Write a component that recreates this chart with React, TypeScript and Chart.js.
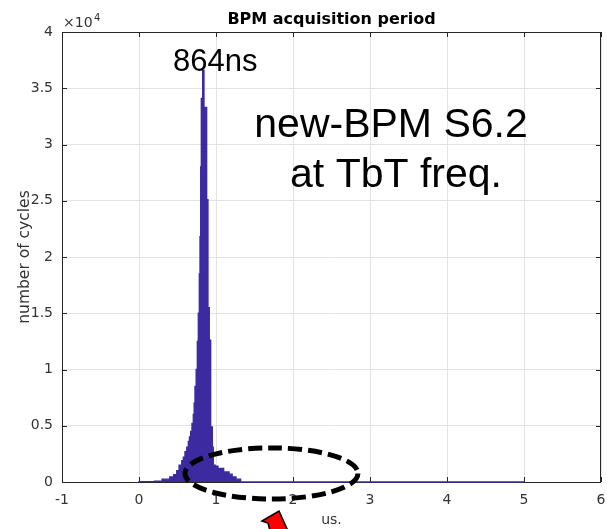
import React, { useEffect, useRef } from "react";
import { Chart, registerables } from "chart.js";

Chart.register(...registerables);

// Histogram: left edges of bins (us) and counts in each bin
const binEdges = [
  0.0, 0.2, 0.3, 0.4, 0.45, 0.49, 0.52, 0.555, 0.575, 0.597, 0.62, 0.64, 0.655, 0.671, 0.688,
  0.705, 0.716, 0.727, 0.742, 0.757, 0.77, 0.783, 0.792, 0.801, 0.809, 0.827, 0.844, 0.879,
  0.896, 0.913, 0.931, 0.952, 0.965, 0.99, 1.026, 1.1, 1.17, 1.21, 1.26, 1.32, 1.377, 5.0,
];
const binCounts = [
  0, 30, 80, 250, 450, 650, 1000, 1500, 1900, 2200, 2700, 3100, 3600, 4000, 4500,
  5200, 6000, 7000, 8500, 10000, 12500, 15000, 18500, 21800, 28000, 34100, 36600, 33300,
  25100, 15500, 12600, 4900, 3100, 1500, 1400, 1200, 900, 700, 450, 250, 0, 0,
];

const xTickValues = [-1, 0, 1, 2, 3, 4, 5, 6];
const yTickValues = [0, 5000, 10000, 15000, 20000, 25000, 30000, 35000, 40000];

const titleText = "BPM acquisition period";
const xTitle = "us.";
const yTitle = "number of cycles";
const peakLabel = "864ns";
const noteLines = ["new-BPM S6.2", "at TbT freq."];
// highlighted region (data units): center x, center y, half-width, half-height
const ellipseCenter = [1.72, 760];
const ellipseRadii = [1.123, 2270];

const AXIS = "#262626";
const BAR = "#3b2aa0";

const decorPlugin = {
  id: "decor",
  beforeDatasetsDraw(chart: any) {
    const { ctx, chartArea: a, scales } = chart;
    ctx.save();
    ctx.strokeStyle = AXIS;
    ctx.lineWidth = 1;
    ctx.strokeRect(a.left + 0.5, a.top + 0.5, a.right - a.left - 1, a.bottom - a.top);
    ctx.beginPath();
    xTickValues.forEach((v) => {
      const px = Math.round(scales.x.getPixelForValue(v)) + 0.5;
      ctx.moveTo(px, a.bottom);
      ctx.lineTo(px, a.bottom - 5);
      ctx.moveTo(px, a.top);
      ctx.lineTo(px, a.top + 5);
    });
    yTickValues.forEach((v) => {
      const py = Math.round(scales.y.getPixelForValue(v)) + 0.5;
      ctx.moveTo(a.left, py);
      ctx.lineTo(a.left + 5, py);
      ctx.moveTo(a.right, py);
      ctx.lineTo(a.right - 5, py);
    });
    ctx.stroke();
    ctx.restore();
  },
  afterDraw(chart: any) {
    const { ctx, chartArea: a, scales } = chart;
    ctx.save();
    // title
    ctx.fillStyle = "#000";
    ctx.font = "bold 16px 'DejaVu Sans'";
    ctx.textAlign = "center";
    ctx.textBaseline = "alphabetic";
    ctx.fillText(titleText, (a.left + a.right) / 2, 23.5);
    // exponent
    ctx.fillStyle = "#333";
    ctx.textAlign = "left";
    ctx.font = "14px 'DejaVu Sans'";
    ctx.fillText("\u00d710", a.left + 1, 26.5);
    ctx.font = "10px 'DejaVu Sans'";
    ctx.fillText("4", a.left + 32, 20.5);
    // annotations
    ctx.fillStyle = "#000";
    ctx.font = "31px 'Liberation Sans'";
    ctx.fillText(peakLabel, 173, 70.5);
    ctx.font = "41px 'Liberation Sans'";
    ctx.textAlign = "center";
    ctx.fillText(noteLines[0], 391, 136.5);
    ctx.fillText(noteLines[1], 396, 186.5);
    // dashed ellipse
    const cx = scales.x.getPixelForValue(ellipseCenter[0]);
    const cy = scales.y.getPixelForValue(ellipseCenter[1]);
    const rx = scales.x.getPixelForValue(ellipseCenter[0] + ellipseRadii[0]) - cx;
    const ry = cy - scales.y.getPixelForValue(ellipseCenter[1] + ellipseRadii[1]);
    ctx.beginPath();
    ctx.setLineDash([14, 6]);
    ctx.lineWidth = 5;
    ctx.strokeStyle = "#000";
    ctx.ellipse(cx, cy, rx, ry, 0, 0, Math.PI * 2);
    ctx.stroke();
    ctx.setLineDash([]);
    // red arrow
    ctx.beginPath();
    ctx.moveTo(262, 521);
    ctx.lineTo(279, 511);
    ctx.lineTo(288, 531);
    ctx.lineTo(270, 531);
    ctx.lineTo(268, 523);
    ctx.closePath();
    ctx.fillStyle = "#ff0000";
    ctx.fill();
    ctx.lineWidth = 1.5;
    ctx.strokeStyle = "#000";
    ctx.stroke();
    ctx.restore();
  },
};

export default function App() {
  const ref = useRef<HTMLCanvasElement | null>(null);
  useEffect(() => {
    document.body.style.margin = "0";
    const canvas = ref.current!;
    const chart = new Chart(canvas, {
      type: "line",
      data: {
        datasets: [
          {
            data: binEdges.map((x, i) => ({ x, y: binCounts[i] })),
            stepped: "after",
            fill: "origin",
            backgroundColor: BAR,
            borderColor: BAR,
            borderWidth: 1.3,
            pointRadius: 0,
            clip: false,
          } as any,
        ],
      },
      options: {
        animation: false,
        responsive: false,
        devicePixelRatio: 1,
        layout: { padding: { top: 32, right: 6, left: 0, bottom: 0 } },
        plugins: { legend: { display: false }, tooltip: { enabled: false } },
        scales: {
          x: {
            type: "linear",
            min: -1,
            max: 6,
            afterBuildTicks: (s: any) => {
              s.ticks = xTickValues.map((v) => ({ value: v }));
            },
            ticks: {
              font: { family: "'DejaVu Sans'", size: 14 },
              color: "#333",
              padding: 10,
              maxRotation: 0,
            },
            grid: { color: "#e3e3e3", drawTicks: false },
            border: { display: false },
            title: {
              display: true,
              text: xTitle,
              font: { family: "'DejaVu Sans'", size: 14 },
              color: "#333",
              padding: { top: 0, bottom: 0 },
            },
            afterFit: (s: any) => {
              s.height = 47;
              s.paddingLeft = 0;
              s.paddingRight = 0;
            },
          },
          y: {
            min: 0,
            max: 40000,
            afterBuildTicks: (s: any) => {
              s.ticks = yTickValues.map((v) => ({ value: v }));
            },
            ticks: {
              font: { family: "'DejaVu Sans'", size: 14 },
              color: "#333",
              padding: 9,
              callback: (v: any) => String(Number(v) / 10000),
            },
            grid: { color: "#e3e3e3", drawTicks: false },
            border: { display: false },
            title: {
              display: true,
              text: yTitle,
              font: { family: "'DejaVu Sans'", size: 15.5 },
              color: "#333",
              padding: { top: 15.5, bottom: 0 },
            },
            afterFit: (s: any) => {
              s.width = 62;
              s.paddingTop = 0;
              s.paddingBottom = 0;
            },
          },
        },
      },
      plugins: [decorPlugin],
    });
    return () => chart.destroy();
  }, []);
  return <canvas ref={ref} width={607} height={529} style={{ display: "block" }} />;
}
